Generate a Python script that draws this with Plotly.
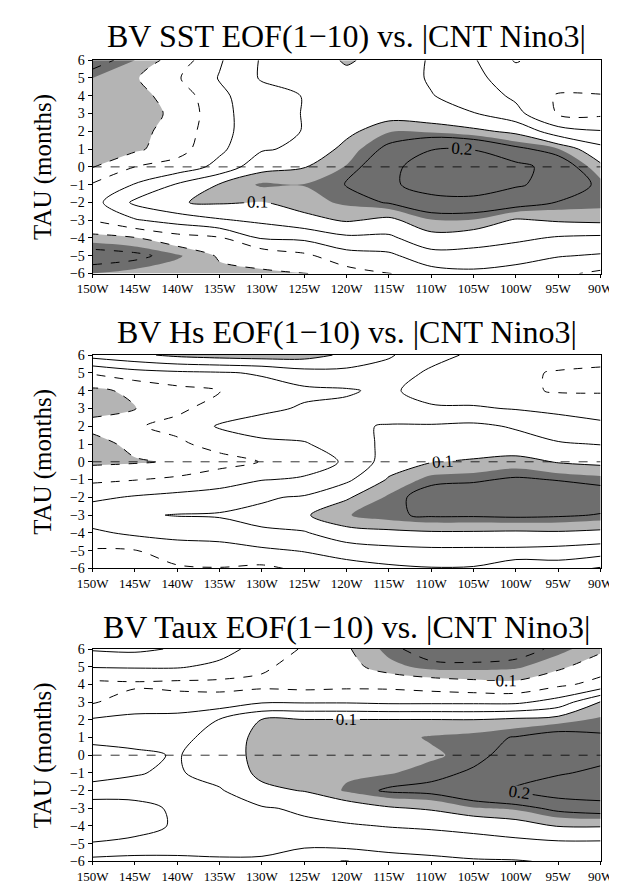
import plotly.graph_objects as go

# ---------------- data ----------------
LON = [-150, -145, -140, -135, -130, -125, -120, -115, -110, -105, -100, -95, -90]
LON_LABELS = ["150W", "145W", "140W", "135W", "130W", "125W", "120W", "115W",
              "110W", "105W", "100W", "95W", "90W"]
TAU = [-6, -5, -4, -3, -2, -1, 0, 1, 2, 3, 4, 5, 6]
TITLES = ["BV SST EOF(1\u221210) vs. |CNT Nino3|",
          "BV Hs EOF(1\u221210) vs. |CNT Nino3|",
          "BV Taux EOF(1\u221210) vs. |CNT Nino3|"]

# each inner list is one longitude column, values for TAU = 6, 5, ..., -6
sst_cols = [
    [-0.17, -0.13, -0.12, -0.12, -0.12, -0.13, -0.102, -0.045, -0.02, -0.048, -0.115, -0.17, -0.13],
    [-0.13, -0.105, -0.115, -0.12, -0.115, -0.11, -0.05, 0.003, 0.06, -0.005, -0.103, -0.16, -0.12],
    [-0.08, -0.055, -0.08, -0.09, -0.08, -0.07, -0.03, 0.055, 0.098, 0.02, -0.07, -0.135, -0.11],
    [-0.005, 0.003, -0.01, -0.015, -0.015, -0.01, 0.015, 0.103, 0.105, 0.045, -0.055, -0.095, -0.11],
    [0.055, 0.055, 0.03, 0.03, 0.03, 0.045, 0.085, 0.135, 0.098, 0.06, 0.005, -0.085, -0.105],
    [0.07, 0.07, 0.052, 0.052, 0.052, 0.06, 0.098, 0.131, 0.12, 0.085, 0.01, -0.06, -0.103],
    [0.106, 0.085, 0.07, 0.075, 0.088, 0.115, 0.132, 0.152, 0.135, 0.105, 0.04, -0.02, -0.07],
    [0.08, 0.075, 0.065, 0.08, 0.128, 0.16, 0.185, 0.19, 0.153, 0.09, 0.04, -0.01, -0.052],
    [0.045, 0.045, 0.052, 0.07, 0.125, 0.198, 0.23, 0.225, 0.18, 0.128, 0.085, 0.03, -0.02],
    [0.005, 0.01, 0.03, 0.052, 0.11, 0.198, 0.235, 0.235, 0.18, 0.128, 0.075, 0.03, -0.01],
    [-0.055, -0.02, -0.01, 0.015, 0.09, 0.16, 0.215, 0.205, 0.17, 0.095, 0.06, 0.02, -0.02],
    [-0.02, -0.02, -0.055, -0.055, 0.02, 0.132, 0.18, 0.185, 0.148, 0.105, 0.045, 0.003, -0.04],
    [-0.02, -0.03, -0.052, -0.06, 0.003, 0.065, 0.11, 0.14, 0.14, 0.11, 0.04, -0.005, -0.06],
]
hs_cols = [
    [0.07, -0.045, -0.11, -0.115, -0.085, -0.12, -0.11, -0.06, -0.01, 0.03, -0.01, -0.055, -0.07],
    [0.09, -0.02, -0.09, -0.102, -0.055, -0.085, -0.105, -0.052, 0.005, 0.045, 0.01, -0.052, -0.065],
    [0.11, -0.01, -0.065, -0.06, -0.035, -0.06, -0.095, -0.04, 0.015, 0.052, 0.02, -0.03, -0.055],
    [0.12, -0.005, -0.052, -0.03, 0.005, -0.03, -0.07, -0.02, 0.02, 0.055, 0.02, -0.02, -0.052],
    [0.125, 0.005, -0.02, -0.01, 0.02, -0.01, -0.048, -0.002, 0.045, 0.06, 0.045, -0.01, -0.06],
    [0.12, 0.03, -0.01, 0.005, 0.03, -0.005, -0.02, 0.005, 0.055, 0.095, 0.045, 0.003, -0.04],
    [0.09, 0.035, -0.005, 0.01, 0.04, 0.03, 0.005, 0.04, 0.095, 0.128, 0.085, 0.02, -0.02],
    [0.055, 0.03, 0.01, 0.01, 0.055, 0.06, 0.075, 0.105, 0.135, 0.145, 0.09, 0.035, -0.01],
    [0.02, -0.01, -0.025, 0.008, 0.055, 0.07, 0.098, 0.14, 0.17, 0.155, 0.095, 0.04, -0.003],
    [-0.01, -0.02, -0.025, 0.005, 0.06, 0.075, 0.105, 0.145, 0.175, 0.155, 0.095, 0.04, -0.005],
    [-0.025, -0.04, -0.04, -0.003, 0.045, 0.07, 0.115, 0.155, 0.18, 0.158, 0.093, 0.04, -0.04],
    [-0.02, -0.055, -0.055, -0.01, 0.02, 0.055, 0.097, 0.148, 0.18, 0.155, 0.095, 0.035, -0.03],
    [-0.03, -0.06, -0.055, -0.02, 0.01, 0.048, 0.09, 0.14, 0.17, 0.148, 0.09, 0.025, -0.055],
]
taux_cols = [
    [0.055, 0.003, -0.065, -0.055, 0.005, 0.04, 0.065, 0.06, 0.04, 0.06, 0.07, 0.048, -0.015],
    [0.06, 0.005, -0.06, -0.02, 0.01, 0.035, 0.058, 0.052, 0.04, 0.058, 0.065, 0.04, -0.02],
    [0.045, 0.005, -0.065, -0.025, 0.015, 0.035, 0.047, 0.045, 0.049, 0.046, 0.045, 0.03, -0.015],
    [0.02, -0.012, -0.065, -0.03, 0.052, 0.07, 0.075, 0.07, 0.045, 0.04, 0.04, 0.03, -0.01],
    [-0.02, -0.04, -0.065, -0.005, 0.102, 0.115, 0.115, 0.11, 0.09, 0.045, 0.035, 0.025, -0.01],
    [-0.055, -0.075, -0.07, -0.005, 0.102, 0.12, 0.125, 0.125, 0.102, 0.058, 0.04, 0.015, -0.045],
    [-0.095, -0.085, -0.065, -0.005, 0.102, 0.115, 0.12, 0.125, 0.134, 0.075, 0.045, 0.02, -0.052],
    [-0.14, -0.12, -0.065, -0.01, 0.102, 0.12, 0.125, 0.128, 0.155, 0.095, 0.052, 0.02, -0.02],
    [-0.17, -0.14, -0.075, -0.01, 0.102, 0.133, 0.125, 0.14, 0.16, 0.105, 0.058, 0.02, -0.01],
    [-0.18, -0.14, -0.085, -0.01, 0.101, 0.14, 0.14, 0.155, 0.18, 0.128, 0.065, 0.03, -0.005],
    [-0.17, -0.135, -0.09, -0.01, 0.11, 0.152, 0.165, 0.185, 0.205, 0.135, 0.08, 0.035, -0.003],
    [-0.14, -0.11, -0.06, 0.02, 0.12, 0.165, 0.185, 0.195, 0.23, 0.16, 0.102, 0.04, 0.005],
    [-0.11, -0.07, -0.035, 0.103, 0.135, 0.155, 0.185, 0.21, 0.24, 0.17, 0.103, 0.04, 0.003],
]

LIGHT = "#b4b4b4"
DARK = "#6e6e6e"
FONT = "Liberation Serif"

# panel placement in pixels (figure 617 x 883)
W, H = 617, 883
X0, X1 = 72, 605
PANELS_PX = [(46, 263), (346, 563), (645, 861)]
TITLE_Y_PX = [21, 322, 623]


def grid(cols):
    n = len(TAU)
    return [[cols[j][n - 1 - i] for j in range(len(LON))] for i in range(n)]


fig = go.Figure()
LABELFONT = dict(family=FONT, size=17, color="black")

for p, cols in enumerate([sst_cols, hs_cols, taux_cols]):
    z = grid(cols)
    za = [[abs(v) for v in row] for row in z]
    xa = "x" if p == 0 else f"x{p+1}"
    ya = "y" if p == 0 else f"y{p+1}"
    common = dict(x=LON, y=TAU, xaxis=xa, yaxis=ya, showscale=False, hoverinfo="skip")
    # shading (plotly shades the region that fails the constraint)
    for thr, col in [(0.1, LIGHT), (0.13, DARK)]:
        fig.add_trace(go.Contour(z=za, contours=dict(type="constraint", operation="<", value=thr),
                                 fillcolor=col, line=dict(width=0, color="rgba(0,0,0,0)", smoothing=0.9),
                                 **common))
    lw = 1.0
    # zero line
    fig.add_trace(go.Contour(z=z, contours=dict(coloring="none", start=0, end=0, size=0.05),
                             line=dict(color="black", width=lw, smoothing=0.9), **common))
    # positive, unlabeled
    fig.add_trace(go.Contour(z=z, contours=dict(coloring="none", start=0.05, end=0.25, size=0.1),
                             line=dict(color="black", width=lw, smoothing=0.9), **common))
    # positive, labeled
    fig.add_trace(go.Contour(z=z, contours=dict(coloring="none", start=0.1, end=0.2, size=0.1,
                                                showlabels=True, labelfont=LABELFONT),
                             line=dict(color="black", width=lw, smoothing=0.9), **common))
    # negative (dashed)
    if p == 2:
        fig.add_trace(go.Contour(z=z, contours=dict(coloring="none", start=-0.25, end=-0.05, size=0.1),
                                 line=dict(color="black", width=lw, dash="dash", smoothing=0.9), **common))
        fig.add_trace(go.Contour(z=z, contours=dict(coloring="none", start=-0.1, end=-0.1, size=0.1,
                                                    showlabels=True, labelfont=LABELFONT),
                                 line=dict(color="black", width=lw, dash="dash", smoothing=0.9), **common))
    else:
        fig.add_trace(go.Contour(z=z, contours=dict(coloring="none", start=-0.25, end=-0.05, size=0.05),
                                 line=dict(color="black", width=lw, dash="dash", smoothing=0.9), **common))

layout = dict(width=W, height=H, margin=dict(l=0, r=0, t=0, b=0),
              paper_bgcolor="white", plot_bgcolor="white", showlegend=False,
              font=dict(family=FONT, color="black"))
shapes = []
annotations = []
for p, (top, bot) in enumerate(PANELS_PX):
    sx = "" if p == 0 else str(p + 1)
    layout["xaxis" + sx] = dict(domain=[X0 / W, X1 / W], range=[-150, -90], anchor="y" + sx,
                                tickvals=LON, ticktext=LON_LABELS, ticks="outside", ticklen=3,
                                tickcolor="black", showline=True, linecolor="black", linewidth=1,
                                mirror=True, showgrid=False, zeroline=False,
                                ticklabeloverflow="allow",
                                tickfont=dict(family=FONT, size=13, color="black"))
    layout["yaxis" + sx] = dict(domain=[1 - bot / H, 1 - top / H], range=[-6, 6], anchor="x" + sx,
                                tickvals=TAU, ticks="outside", ticklen=4, tickcolor="black",
                                showline=True, linecolor="black", linewidth=1, mirror=True,
                                showgrid=False, zeroline=False, ticklabeloverflow="allow",
                                tickfont=dict(family=FONT, size=14, color="black"))
    shapes.append(dict(type="line", xref="x" + sx, yref="y" + sx, x0=-150, x1=-90, y0=0, y1=0,
                       line=dict(color="black", width=0.8, dash="dash"), layer="above"))
    annotations.append(dict(text=TITLES[p], xref="paper", yref="paper",
                            x=(X0 + X1) / 2 / W, y=1 - TITLE_Y_PX[p] / H,
                            xanchor="center", yanchor="middle", showarrow=False,
                            font=dict(family=FONT, size=32, color="black")))
    annotations.append(dict(text="TAU (months)", xref="paper", yref="paper",
                            x=20 / W, y=1 - (top + bot) / 2 / H, textangle=-90,
                            xanchor="center", yanchor="middle", showarrow=False,
                            font=dict(family=FONT, size=25, color="black")))
layout["shapes"] = shapes
layout["annotations"] = annotations
fig.update_layout(**layout)
fig.write_html("out.html")
